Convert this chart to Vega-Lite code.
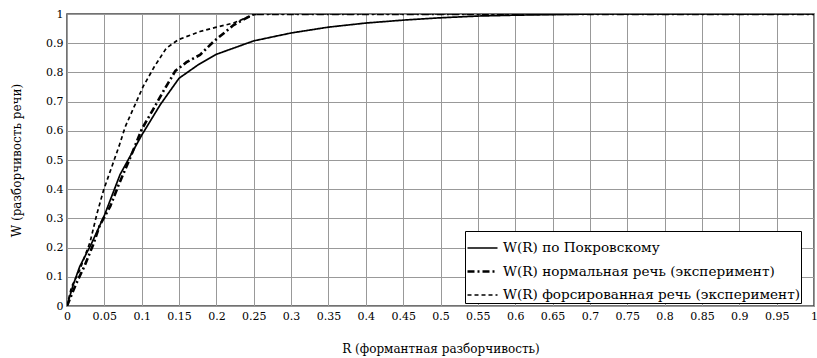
{
  "$schema": "https://vega.github.io/schema/vega-lite/v6.json",
  "width": 747,
  "height": 292,
  "autosize": {"type": "none"},
  "padding": {"left": 67, "top": 14, "right": 3, "bottom": 52},
  "background": "white",
  "config": {
    "view": {"stroke": "#444", "strokeWidth": 1.5},
    "font": "DejaVu Serif"
  },
  "data": {"values": [
    {"R": 0, "W": 0, "s": "W(R) по Покровскому"},
    {"R": 0.008, "W": 0.07, "s": "W(R) по Покровскому"},
    {"R": 0.017, "W": 0.135, "s": "W(R) по Покровскому"},
    {"R": 0.033, "W": 0.215, "s": "W(R) по Покровскому"},
    {"R": 0.05, "W": 0.31, "s": "W(R) по Покровскому"},
    {"R": 0.071, "W": 0.45, "s": "W(R) по Покровскому"},
    {"R": 0.1, "W": 0.585, "s": "W(R) по Покровскому"},
    {"R": 0.125, "W": 0.69, "s": "W(R) по Покровскому"},
    {"R": 0.15, "W": 0.78, "s": "W(R) по Покровскому"},
    {"R": 0.175, "W": 0.825, "s": "W(R) по Покровскому"},
    {"R": 0.2, "W": 0.862, "s": "W(R) по Покровскому"},
    {"R": 0.25, "W": 0.908, "s": "W(R) по Покровскому"},
    {"R": 0.3, "W": 0.935, "s": "W(R) по Покровскому"},
    {"R": 0.35, "W": 0.955, "s": "W(R) по Покровскому"},
    {"R": 0.4, "W": 0.969, "s": "W(R) по Покровскому"},
    {"R": 0.45, "W": 0.979, "s": "W(R) по Покровскому"},
    {"R": 0.5, "W": 0.987, "s": "W(R) по Покровскому"},
    {"R": 0.55, "W": 0.993, "s": "W(R) по Покровскому"},
    {"R": 0.6, "W": 0.996, "s": "W(R) по Покровскому"},
    {"R": 0.65, "W": 0.998, "s": "W(R) по Покровскому"},
    {"R": 0.7, "W": 1, "s": "W(R) по Покровскому"},
    {"R": 1, "W": 1, "s": "W(R) по Покровскому"},

    {"R": 0, "W": 0, "s": "W(R) нормальная речь (эксперимент)"},
    {"R": 0.012, "W": 0.075, "s": "W(R) нормальная речь (эксперимент)"},
    {"R": 0.024, "W": 0.14, "s": "W(R) нормальная речь (эксперимент)"},
    {"R": 0.035, "W": 0.21, "s": "W(R) нормальная речь (эксперимент)"},
    {"R": 0.044, "W": 0.277, "s": "W(R) нормальная речь (эксперимент)"},
    {"R": 0.058, "W": 0.342, "s": "W(R) нормальная речь (эксперимент)"},
    {"R": 0.069, "W": 0.414, "s": "W(R) нормальная речь (эксперимент)"},
    {"R": 0.085, "W": 0.51, "s": "W(R) нормальная речь (эксперимент)"},
    {"R": 0.1, "W": 0.605, "s": "W(R) нормальная речь (эксперимент)"},
    {"R": 0.115, "W": 0.672, "s": "W(R) нормальная речь (эксперимент)"},
    {"R": 0.13, "W": 0.74, "s": "W(R) нормальная речь (эксперимент)"},
    {"R": 0.145, "W": 0.805, "s": "W(R) нормальная речь (эксперимент)"},
    {"R": 0.16, "W": 0.835, "s": "W(R) нормальная речь (эксперимент)"},
    {"R": 0.178, "W": 0.86, "s": "W(R) нормальная речь (эксперимент)"},
    {"R": 0.196, "W": 0.905, "s": "W(R) нормальная речь (эксперимент)"},
    {"R": 0.223, "W": 0.962, "s": "W(R) нормальная речь (эксперимент)"},
    {"R": 0.25, "W": 1, "s": "W(R) нормальная речь (эксперимент)"},
    {"R": 0.5, "W": 1, "s": "W(R) нормальная речь (эксперимент)"},
    {"R": 1, "W": 1, "s": "W(R) нормальная речь (эксперимент)"},

    {"R": 0, "W": 0, "s": "W(R) форсированная речь (эксперимент)"},
    {"R": 0.006, "W": 0.065, "s": "W(R) форсированная речь (эксперимент)"},
    {"R": 0.017, "W": 0.123, "s": "W(R) форсированная речь (эксперимент)"},
    {"R": 0.031, "W": 0.22, "s": "W(R) форсированная речь (эксперимент)"},
    {"R": 0.04, "W": 0.315, "s": "W(R) форсированная речь (эксперимент)"},
    {"R": 0.049, "W": 0.397, "s": "W(R) форсированная речь (эксперимент)"},
    {"R": 0.06, "W": 0.477, "s": "W(R) форсированная речь (эксперимент)"},
    {"R": 0.07, "W": 0.55, "s": "W(R) форсированная речь (эксперимент)"},
    {"R": 0.078, "W": 0.614, "s": "W(R) форсированная речь (эксперимент)"},
    {"R": 0.091, "W": 0.689, "s": "W(R) форсированная речь (эксперимент)"},
    {"R": 0.102, "W": 0.752, "s": "W(R) форсированная речь (эксперимент)"},
    {"R": 0.117, "W": 0.82, "s": "W(R) форсированная речь (эксперимент)"},
    {"R": 0.133, "W": 0.883, "s": "W(R) форсированная речь (эксперимент)"},
    {"R": 0.149, "W": 0.912, "s": "W(R) форсированная речь (эксперимент)"},
    {"R": 0.178, "W": 0.94, "s": "W(R) форсированная речь (эксперимент)"},
    {"R": 0.2, "W": 0.955, "s": "W(R) форсированная речь (эксперимент)"},
    {"R": 0.223, "W": 0.969, "s": "W(R) форсированная речь (эксперимент)"},
    {"R": 0.25, "W": 0.998, "s": "W(R) форсированная речь (эксперимент)"},
    {"R": 0.26, "W": 1, "s": "W(R) форсированная речь (эксперимент)"},
    {"R": 1, "W": 1, "s": "W(R) форсированная речь (эксперимент)"}
  ]},
  "mark": {"type": "line", "color": "black", "clip": true},
  "encoding": {
    "x": {
      "field": "R", "type": "quantitative",
      "scale": {"domain": [0, 1], "nice": false, "zero": false},
      "axis": {
        "values": [0,0.05,0.1,0.15,0.2,0.25,0.3,0.35,0.4,0.45,0.5,0.55,0.6,0.65,0.7,0.75,0.8,0.85,0.9,0.95,1],
        "format": ".2~f",
        "title": "R (формантная разборчивость)",
        "titleFont": "DejaVu Serif", "titleFontSize": 12, "titleFontWeight": "normal", "titleColor": "black",
        "titlePadding": 22,
        "labelFont": "DejaVu Serif", "labelFontSize": 11, "labelColor": "black",
        "labelPadding": 4, "ticks": false, "domain": false,
        "grid": true, "gridColor": "#999", "gridWidth": 1, "gridOpacity": 1,
        "labelFlush": false, "labelOverlap": false
      }
    },
    "y": {
      "field": "W", "type": "quantitative",
      "scale": {"domain": [0, 1], "nice": false, "zero": false},
      "axis": {
        "values": [0,0.1,0.2,0.3,0.4,0.5,0.6,0.7,0.8,0.9,1],
        "format": ".1~f",
        "title": "W (разборчивость речи)",
        "titleFont": "DejaVu Serif", "titleFontSize": 12, "titleFontWeight": "normal", "titleColor": "black",
        "titlePadding": 22,
        "labelFont": "DejaVu Serif", "labelFontSize": 11, "labelColor": "black",
        "labelPadding": 4, "ticks": false, "domain": false,
        "grid": true, "gridColor": "#999", "gridWidth": 1, "gridOpacity": 1,
        "labelFlush": false, "labelOverlap": false
      }
    },
    "strokeDash": {
      "field": "s", "type": "nominal",
      "scale": {
        "domain": ["W(R) по Покровскому", "W(R) нормальная речь (эксперимент)", "W(R) форсированная речь (эксперимент)"],
        "range": [[1, 0], [7, 3, 2, 3], [4, 3]]
      },
      "legend": {
        "title": null,
        "orient": "none",
        "legendX": 398,
        "legendY": 217,
        "padding": 1,
        "fillColor": "white",
        "strokeColor": "black",
        "symbolType": "stroke",
        "symbolSize": 900,
        "symbolStrokeWidth": 2,
        "symbolStrokeColor": "black",
        "labelFont": "DejaVu Serif",
        "labelFontSize": 13.6,
        "labelColor": "black",
        "labelOffset": 4,
        "rowPadding": -9,
        "labelLimit": 400
      }
    },
    "strokeWidth": {
      "field": "s", "type": "nominal",
      "scale": {
        "type": "ordinal",
        "domain": ["W(R) по Покровскому", "W(R) нормальная речь (эксперимент)", "W(R) форсированная речь (эксперимент)"],
        "range": [1.7, 2.6, 1.7]
      },
      "legend": null
    }
  }
}
